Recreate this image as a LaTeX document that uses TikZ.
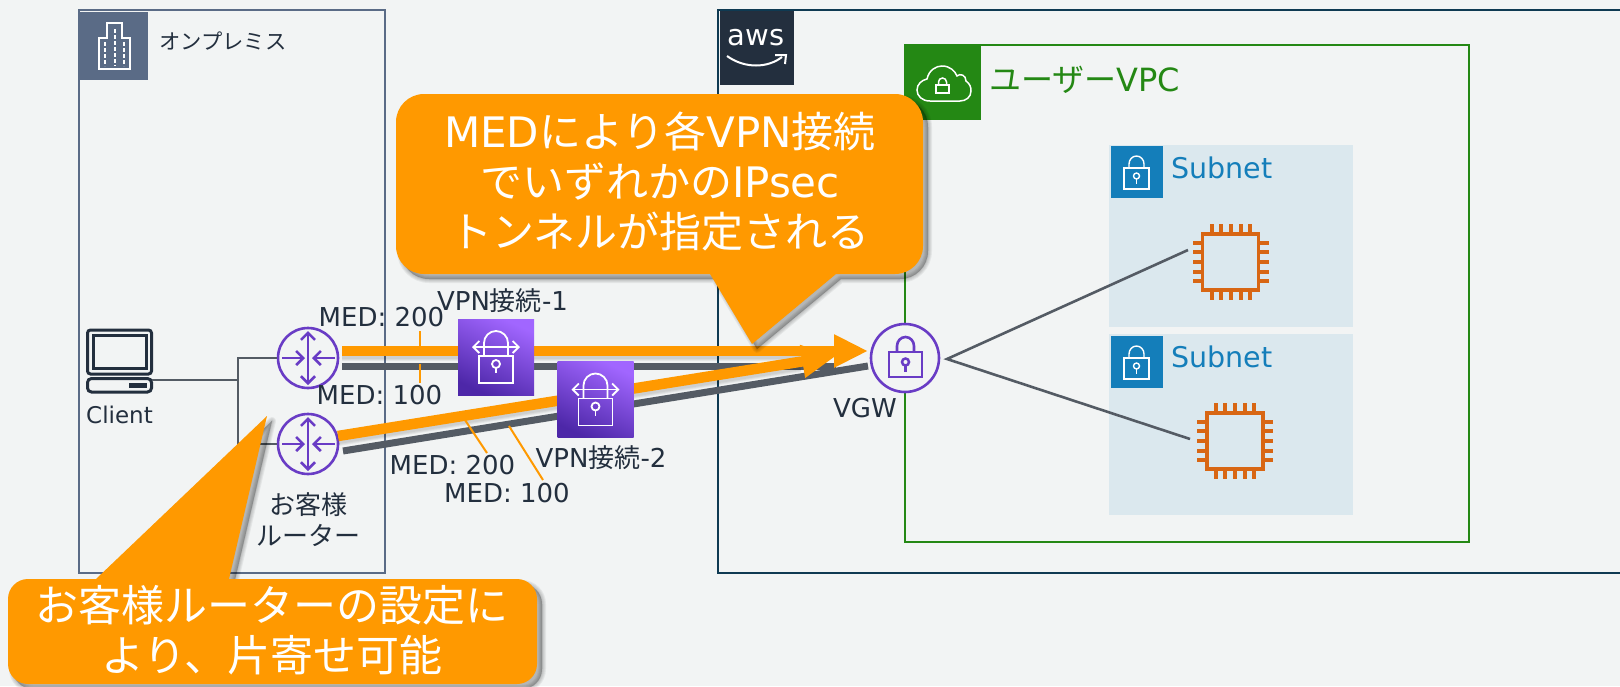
\documentclass[tikz,border=0pt]{standalone}
\usepackage{fontspec}
\setmainfont{DejaVu Sans}
\newfontfamily\jpf{Noto Sans CJK JP}
\usetikzlibrary{arrows.meta}
\definecolor{bgc}{HTML}{F2F4F4}
\definecolor{inkc}{HTML}{232F3E}
\definecolor{greyc}{HTML}{545B64}
\definecolor{orangec}{HTML}{FF9900}
\definecolor{purplec}{HTML}{693CC5}
\definecolor{greenc}{HTML}{248814}
\definecolor{bluec}{HTML}{147EBA}
\definecolor{subc}{HTML}{DBE8EE}
\definecolor{premc}{HTML}{5A6B86}
\definecolor{awsc}{HTML}{0F3A52}
\definecolor{chipc}{HTML}{D86613}
\definecolor{vpndark}{HTML}{4D27A8}
\definecolor{vpnlight}{HTML}{A166FF}
\newcommand\J[1]{{\jpf #1}}
\newcommand\softfill[1]{%
  \foreach \w in {8,6,4,2,0.5}{\filldraw[black,opacity=.055,line width=\w pt,line join=round,shift={(5,5)}] #1;}}
\tikzset{
  x=1pt,y=-1pt,
  lab/.style={inner sep=0pt,text=inkc,font=\fontsize{26}{31}\selectfont,align=center},
  wlab/.style={inner sep=0pt,text=white,font=\fontsize{42}{50}\selectfont,align=center},
  thin line/.style={draw=greyc,line width=2.6pt},
  thick grey/.style={draw=greyc,line width=7pt},
  tick/.style={draw=orangec,line width=2pt},
  bigarrow/.style={draw=orangec,line width=10.5pt,-{Triangle[length=34pt,width=31pt,fill=orangec]}},
  router/.style={circle,draw=purplec,line width=2.6pt,fill=bgc,minimum size=60pt,inner sep=0pt},
  openhead/.style={-{Straight Barb[length=7pt,width=14pt,line width=2.6pt]}},
  routerpic/.pic={
    \draw[purplec,line width=2.6pt,openhead] (-26,0) -- (-3,0);
    \draw[purplec,line width=2.6pt,openhead] (27,0) -- (4,0);
    \draw[purplec,line width=2.6pt,openhead] (0,0) -- (0,-27);
    \draw[purplec,line width=2.6pt,openhead] (0,0) -- (0,27);
  },
  vpnicon/.pic={
    \shade[bottom color=vpndark,top color=vpnlight,shading angle=-25] (-38,-38) rectangle (38,38);
    \draw[white,line width=1.8pt] (-17,-1) rectangle (17,26);
    \draw[white,line width=1.8pt] (-12,-1) -- (-12,-14) arc[start angle=180,end angle=360,x radius=12,y radius=12] -- (12,-1);
    \draw[white,line width=1.8pt,{Straight Barb[length=6pt,width=12pt,line width=1.8pt]}-{Straight Barb[length=6pt,width=12pt,line width=1.8pt]}] (-24,-10) -- (24,-10);
    \draw[white,line width=1.8pt] (0,7) circle[radius=4];
    \draw[white,line width=1.8pt] (0,11) -- (0,16);
  },
  lockicon/.pic={
    \fill[bluec] (0,0) rectangle (52,52);
    \draw[white,line width=1.4pt] (13,22) rectangle (38,43);
    \draw[white,line width=1.4pt] (18,22) -- (18,18) arc[start angle=180,end angle=360,x radius=7.5,y radius=8] -- (33,22);
    \draw[white,line width=1.4pt] (25.5,30) circle[radius=3];
    \draw[white,line width=1.4pt] (25.5,33) -- (25.5,38);
  },
  chip/.pic={
    \draw[chipc,line width=3.5pt] (-28,-28) rectangle (28,28);
    \foreach \p in {-19,-10,0,10,19}{
      \draw[chipc,line width=4pt] (\p,-29) -- (\p,-38);
      \draw[chipc,line width=4pt] (\p,29) -- (\p,38);
      \draw[chipc,line width=4pt] (-29,\p) -- (-38,\p);
      \draw[chipc,line width=4pt] (29,\p) -- (38,\p);
    }
  },
}
\begin{document}
\begin{tikzpicture}
\useasboundingbox (0,0) rectangle (1620,686);
\fill[bgc] (0,0) rectangle (1620,686);

% on-premises
\draw[premc,line width=2.6pt] (79,10) rectangle (385,573);
\fill[premc] (79,12) rectangle (148,80);
\draw[white,line width=1.5pt] (99,69) -- (99,38) -- (107,38) -- (107,23) -- (122,23) -- (122,38) -- (130,38) -- (130,69) -- cycle;
\foreach \xx/\yy in {105/42,115/29,124/42}{
  \draw[white,line width=1.8pt,dash pattern=on 3.5pt off 2.5pt] (\xx,\yy) -- (\xx,66);
}
\node[lab,font=\fontsize{21.3}{26}\selectfont,anchor=west] (onprem) at (159,41) {\J{オンプレミス}};

% AWS
\draw[awsc,line width=2.6pt] (1620,10) -- (718,10) -- (718,573) -- (1620,573);
\fill[inkc] (720,11) rectangle (794,85);
\node[inner sep=0pt,text=white,font=\fontsize{29}{32}\selectfont] (awslogo) at (756,38) {aws};
\draw[white,line width=2pt] (727,56) .. controls (745,69) and (768,68) .. (782,57);
\draw[white,line width=2pt] (775,55) -- (786,55) -- (785,64);

% VPC
\draw[greenc,line width=2.8pt] (905,45) rectangle (1469,542);
\fill[greenc] (906,46) rectangle (981,120);
\draw[white,line width=1.5pt] (930,101) .. controls (922,101) and (917,96) .. (917,90) .. controls (917,84) and (922,80) .. (927,79) .. controls (929,70) and (936,66) .. (942,66) .. controls (950,66) and (955,71) .. (957,76) .. controls (960,73) and (966,75) .. (966,81) .. controls (970,84) and (971,87) .. (971,91) .. controls (971,97) and (966,101) .. (960,101) -- cycle;
\draw[white,line width=1.5pt] (936,85) rectangle (949,93);
\draw[white,line width=1.5pt] (938.5,85) -- (938.5,82) arc[start angle=180,end angle=360,x radius=4,y radius=4] -- (946.5,85);
\node[lab,text=greenc,font=\fontsize{32}{38}\selectfont,anchor=west] (vpclabel) at (989,80) {\J{ユーザー}VPC};

% subnets
\fill[subc] (1109,145) rectangle (1353,327);
\fill[subc] (1109,334) rectangle (1353,515);
\pic at (1111,146) {lockicon};
\pic at (1111,336) {lockicon};
\node[lab,text=bluec,font=\fontsize{28.5}{34}\selectfont,anchor=west] (sub1) at (1171,168) {Subnet};
\node[lab,text=bluec,font=\fontsize{28.5}{34}\selectfont,anchor=west] (sub2) at (1171,357) {Subnet};
\pic at (1230.5,262) {chip};
\pic at (1235,441) {chip};

% client
\node[inner sep=0pt,minimum width=65pt,minimum height=64pt] (client) at (119.5,361) {};
\draw[inkc,line width=3pt,rounded corners=3pt] (87.5,330) rectangle (151.5,374);
\draw[inkc,line width=3pt] (93.5,335.5) rectangle (146.5,368);
\draw[inkc,line width=3pt,rounded corners=4pt] (87.5,378.5) rectangle (151.5,392);
\fill[inkc] (129,383) rectangle (147,387.5);
\node[lab,font=\fontsize{23}{28}\selectfont] (clientlabel) at (119.5,415) {Client};

% routers
\node[router] (r1) at (308,358) {};
\node[router] (r2) at (308,444) {};
\coordinate (cl) at (152,380);
\coordinate (j) at (238,380);
\draw[thin line] (cl) -- (j);
\draw[thin line] (r1.west) -| (j) |- (r2.west);
\pic at (r1) {routerpic};
\pic at (r2) {routerpic};
\node[lab] (rlabel) at (308,520) {\J{お客様}\\\J{ルーター}};

% VGW
\node[router,minimum size=68pt] (vgw) at (905,358) {};
\draw[purplec,line width=2.6pt] (889,352) rectangle (922,377);
\draw[purplec,line width=2.6pt] (897,352) -- (897,346) arc[start angle=180,end angle=360,x radius=8.5,y radius=9] -- (914,352);
\draw[purplec,line width=2.5pt] (905.5,362) circle[radius=3.5];
\draw[purplec,line width=2.5pt] (905.5,365) -- (905.5,372);
\node[lab] (vgwlabel) at (865,408) {VGW};

% fan
\coordinate (fan) at (947,359);
\coordinate (c1) at (1188,250);
\coordinate (c2) at (1190,439);
\draw[thin line] (c1) -- (fan) -- (c2);

% tunnels
\coordinate (a1) at (342,366);
\coordinate (a2) at (836,366);
\coordinate (b1) at (343,451);
\coordinate (b2) at (868,366);
\coordinate (o1) at (342,351);
\coordinate (o2) at (868,351);
\coordinate (p1) at (338,436);
\coordinate (p2) at (836,356);
\draw[thick grey] (a1) -- (a2);
\draw[thick grey] (b1) -- (b2);
\foreach \w in {14,12,10}{
  \draw[black,opacity=.05,line width=\w pt,shift={(0,3)}] (342,351) -- (800,351);
  \draw[black,opacity=.05,line width=\w pt,shift={(0,3)}] (338,436) -- (800,362);
}
\draw[bigarrow] (o1) -- (o2);
\draw[bigarrow] (p1) -- (p2);

% ticks
\coordinate (t1a) at (420,331); \coordinate (t1b) at (420,348);
\coordinate (t2a) at (420,364); \coordinate (t2b) at (420,383);
\coordinate (t3a) at (465,420); \coordinate (t3b) at (487,453);
\coordinate (t4a) at (509,426); \coordinate (t4b) at (543,480);
\draw[tick] (t1a) -- (t1b);
\draw[tick] (t2a) -- (t2b);
\draw[tick] (t3a) -- (t3b);
\draw[tick] (t4a) -- (t4b);

% VPN icons
\pic at (496,357) {vpnicon};
\pic at (595.5,399.5) {vpnicon};

% labels
\node[lab] (m1) at (381.5,317) {MED: 200};
\node[lab] (m2) at (379.5,395) {MED: 100};
\node[lab] (m3) at (452.5,465) {MED: 200};
\node[lab] (m4) at (507,493) {MED: 100};
\node[lab] (v1) at (502.5,301) {VPN\J{接続}-1};
\node[lab] (v2) at (601,458) {VPN\J{接続}-2};

% callout 1
\def\calloutA{(660,94) [rounded corners=28pt] -- (923,94) -- (923,274) [sharp corners] -- (836,274) -- (752,344) -- (710,274) [rounded corners=28pt] -- (396,274) -- (396,94) -- cycle}
\softfill{\calloutA}
\fill[orangec] \calloutA;
\node[wlab] (ca) at (660,181) {MED\J{により各}VPN\J{接続}\\\J{でいずれかの}IPsec\\\J{トンネルが指定される}};

% callout 2
\def\calloutB{(270,579) [sharp corners] -- (229,579) -- (267,416) -- (96,579) [rounded corners=20pt] -- (8,579) -- (8,684) -- (537,684) -- (537,579) -- cycle}
\softfill{\calloutB}
\fill[orangec] \calloutB;
\node[wlab,font=\fontsize{43}{50}\selectfont] (cb) at (272,630) {\J{お客様ルーターの設定に}\\\J{より、片寄せ可能}};
\end{tikzpicture}
\end{document}
